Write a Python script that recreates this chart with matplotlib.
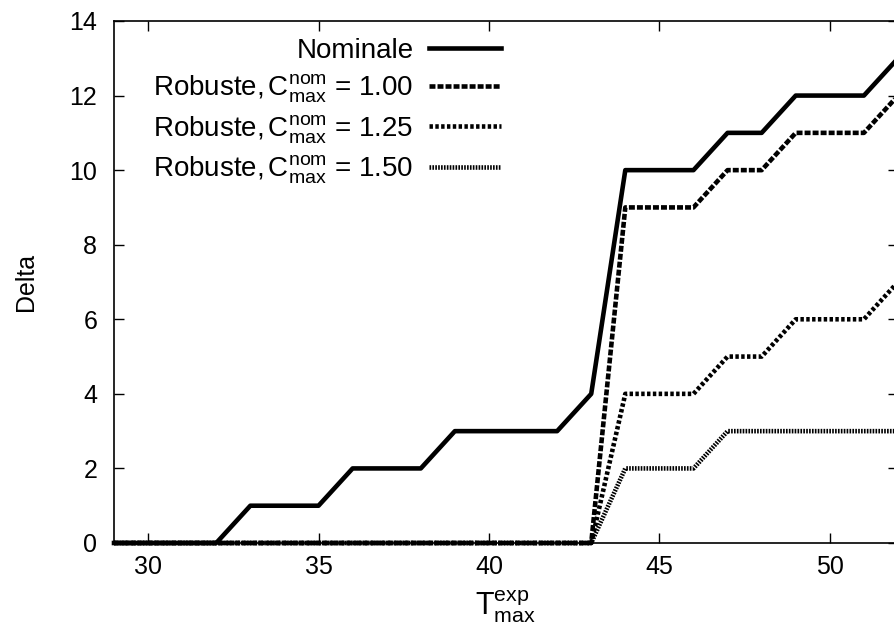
import numpy as np
import matplotlib
matplotlib.use("Agg")
import matplotlib.pyplot as plt

plt.rcParams['font.family'] = ['Liberation Sans', 'DejaVu Sans']
plt.rcParams['mathtext.fontset'] = 'custom'
plt.rcParams['mathtext.rm'] = 'Liberation Sans'
plt.rcParams['mathtext.it'] = 'Liberation Sans'

# T_max^exp values and Delta per model
t_exp = list(range(29, 53))
nominale = [0, 0, 0, 0, 1, 1, 1, 2, 2, 2, 3, 3, 3, 3, 4, 10, 10, 10, 11, 11, 12, 12, 12, 13]
robuste_100 = [0] * 15 + [9, 9, 9, 10, 10, 11, 11, 11, 12]
robuste_125 = [0] * 15 + [4, 4, 4, 5, 5, 6, 6, 6, 7]
robuste_150 = [0] * 15 + [2, 2, 2, 3, 3, 3, 3, 3, 3]

labels = ["Nominale",
          r"Robuste,$\mathregular{\,C^{nom}_{max}}$ = 1.00",
          r"Robuste,$\mathregular{\,C^{nom}_{max}}$ = 1.25",
          r"Robuste,$\mathregular{\,C^{nom}_{max}}$ = 1.50"]

W, H = 895, 626
fig = plt.figure(figsize=(W / 100, H / 100), dpi=100)
ax = fig.add_axes([114 / W, 1 - 543 / H, (898 - 114) / W, (543 - 21) / H])

lw = 3.3
l0, = ax.plot(t_exp, nominale, color='black', lw=lw)
l1, = ax.plot(t_exp, robuste_100, color='black', lw=lw, dashes=(1.3, 0.45))
l2, = ax.plot(t_exp, robuste_125, color='black', lw=lw, dashes=(0.75, 0.52))
l3, = ax.plot(t_exp, robuste_150, color='black', lw=lw, dashes=(0.36, 0.27))
for l in (l0, l1, l2, l3):
    l.set_clip_on(False)

ax.set_xlim(29, 52)
ax.set_ylim(0, 14)
ax.set_xticks([30, 35, 40, 45, 50])
ax.set_yticks(np.arange(0, 15, 2))
ax.tick_params(direction='in', length=7, width=1, labelsize=18,
               top=True, right=True)
ax.tick_params(axis='x', pad=9)
ax.tick_params(axis='y', pad=12)
for s in ax.spines.values():
    s.set_linewidth(1.2)

ax.set_ylabel("Delta", fontsize=18)
ax.yaxis.set_label_coords(-0.097, 0.5)
ax.set_xlabel(r"$\mathregular{T^{exp}_{max}}$", fontsize=22)
ax.xaxis.set_label_coords(0.5, -0.088)

leg = ax.legend([l0, l1, l2, l3], labels, loc='upper right',
                bbox_to_anchor=(501 / W, 1 - 38 / H), bbox_transform=fig.transFigure,
                frameon=False, markerfirst=False, fontsize=20,
                handlelength=2.6, handletextpad=0.55, borderpad=0,
                borderaxespad=0, labelspacing=0.3)

fig.savefig("out.png", dpi=100)
